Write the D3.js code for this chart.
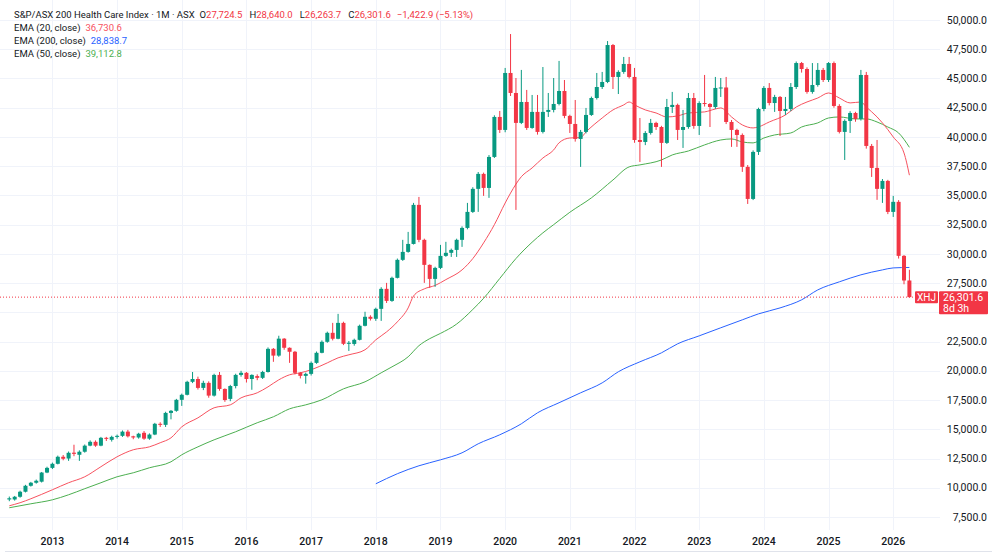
<!DOCTYPE html>
<html>
<head>
<meta charset="utf-8">
<script src="https://cdn.jsdelivr.net/npm/d3@7"></script>
<style>
  html, body { margin: 0; padding: 0; background: #fff; }
  svg { display: block; font-family: Roboto, "Liberation Sans", sans-serif; }
</style>
</head>
<body>
<div id="chart"></div>
<script>
// monthly bars, first bar is May 2012
var firstMonth = "2012-05";

var open = [
  9000, 9000, 9230, 9660, 10170, 10430, 10520, 11300,
  11700, 12050, 12650, 12500, 13000, 12820, 13080, 13600, 13930, 13600, 14270, 14100,
  14350, 14440, 14800, 14400, 14300, 14700, 14200, 14550, 15470, 15380, 16400, 16580,
  17520, 17950, 19060, 19300, 18540, 18970, 17880, 19650, 18450, 17600, 18700, 19650,
  19830, 19300, 19550, 19400, 19900, 21880, 21300, 22750, 21970, 21630, 19830, 19570,
  19740, 20680, 21540, 22480, 23250, 22740, 24100, 22310, 22300, 22650, 23850, 24620,
  24450, 25300, 27010, 25980, 27950, 29490, 30170, 30850, 34190, 31200, 29060, 27860,
  28800, 29830, 30090, 30340, 31200, 32220, 33590, 35560, 36840, 35640, 38290, 41710,
  40600, 45470, 43760, 41200, 42990, 40770, 42140, 40430, 42140, 42310, 42820, 43930,
  41800, 41110, 39830, 40430, 41880, 43330, 44270, 44700, 47860, 45130, 45560, 46240,
  45130, 39740, 39570, 40340, 41200, 40850, 39490, 42560, 42740, 40600, 40850, 43330,
  40940, 42900, 42820, 42560, 44190, 44230, 41280, 40600, 40170, 37440, 34700, 38720,
  42390, 44190, 42900, 43420, 42220, 42390, 44270, 46320, 45810, 43850, 44440, 45730,
  44870, 46320, 42650, 40430, 41370, 42050, 41540, 45300, 39230, 37350, 35560, 36240,
  33590, 34450, 29830, 27724.5
];
var high = [
  9250, 9300, 9750, 10250, 10500, 10700, 11350, 11800,
  12150, 12750, 12800, 13100, 13680, 13200, 13700, 14050, 14050, 14350, 14350, 14450,
  14550, 14900, 14950, 14450, 14700, 14850, 14650, 15550, 15600, 16500, 16650, 17600,
  18050, 19150, 19900, 19500, 19150, 19100, 19750, 19900, 18500, 18800, 19750, 20000,
  19900, 19700, 19700, 20000, 22000, 21950, 23000, 22800, 22000, 21700, 19900, 19850,
  20800, 21650, 22600, 23350, 24100, 24870, 24200, 22550, 22750, 23950, 25050, 24750,
  25400, 27150, 27520, 28050, 29600, 31200, 31880, 34360, 34870, 31300, 29100, 28900,
  30770, 31030, 30450, 31300, 32350, 34360, 35700, 37000, 36950, 38450, 41850, 42220,
  45900, 48800, 45040, 45730, 44020, 43590, 43590, 45980, 43760, 45040, 46500, 44870,
  41900, 43160, 40600, 42480, 43450, 45470, 45560, 48200, 47950, 45700, 46840, 46840,
  45900, 41620, 40500, 41540, 41300, 40950, 43250, 43850, 42850, 42310, 43760, 43760,
  43050, 45300, 42900, 45130, 45040, 45130, 41450, 40700, 40300, 37600, 38850, 42500,
  44350, 44610, 43600, 43500, 43420, 44610, 46450, 46410, 45950, 46320, 46320, 45900,
  46400, 46450, 42800, 41500, 42200, 42150, 45730, 45560, 39400, 39740, 36400, 36330,
  34960, 34600, 29900, 28640
];
var low = [
  8850, 8900, 9150, 9600, 10100, 10350, 10450, 11250,
  11600, 12000, 12350, 12300, 12700, 12300, 13000, 13550, 13500, 13550, 14000, 13950,
  14200, 14350, 14300, 14150, 14200, 14100, 14100, 14500, 15200, 15200, 15850, 16500,
  17000, 17900, 18950, 18400, 18350, 17700, 17800, 18300, 17350, 17400, 18500, 19500,
  19000, 18380, 19200, 19300, 19850, 20770, 21200, 21800, 20680, 19700, 19350, 18900,
  19600, 20600, 21500, 22400, 22600, 22700, 22200, 21700, 22150, 22600, 23800, 24300,
  24270, 24270, 25800, 25900, 27900, 29400, 30100, 30800, 31000, 27520, 27090, 27180,
  28700, 29750, 29740, 29740, 30600, 32100, 33500, 33590, 34960, 34790, 38200, 40340,
  40400, 43500, 33760, 41100, 40600, 40700, 40200, 40300, 41710, 42100, 42700, 41600,
  40340, 39600, 37440, 40300, 41800, 43200, 44100, 44600, 44100, 43670, 45400, 45000,
  39500, 37860, 39300, 40200, 40600, 37440, 39400, 42050, 39740, 39060, 40700, 40700,
  40170, 42600, 40850, 42400, 43420, 41100, 39150, 39150, 37010, 34270, 34600, 38460,
  42200, 42700, 42140, 40080, 41880, 42200, 44100, 45500, 43700, 43700, 44300, 44700,
  44700, 42500, 40300, 38030, 40340, 41300, 41400, 39000, 36580, 34620, 34360, 33400,
  33160, 29600, 27400, 26263.7
];
var close = [
  9100, 9230, 9660, 10170, 10430, 10600, 11300, 11700,
  12050, 12650, 12480, 12990, 12900, 13080, 13600, 13930, 13600, 14270, 14180, 14350,
  14440, 14800, 14400, 14300, 14620, 14200, 14550, 15470, 15380, 16400, 16580, 17520,
  17950, 19060, 19300, 18540, 18970, 17880, 19650, 18450, 17500, 18700, 19650, 19830,
  19300, 19650, 19400, 19900, 21880, 21300, 22750, 21970, 21630, 19830, 19570, 19740,
  20680, 21540, 22480, 23250, 22740, 24100, 22310, 22400, 22650, 23850, 24620, 24450,
  25300, 27010, 25980, 27950, 29490, 30170, 30850, 34190, 31200, 29060, 27860, 28800,
  29830, 30090, 30340, 31200, 32220, 33590, 35560, 36840, 35640, 38290, 41710, 40600,
  45470, 43760, 41200, 42990, 40770, 42140, 40430, 42140, 42310, 42820, 43930, 41800,
  41110, 39830, 40430, 41880, 43330, 44270, 44700, 47860, 45130, 45560, 46240, 45130,
  39740, 39570, 40340, 41200, 40850, 39490, 42560, 42740, 40600, 40850, 43330, 40940,
  42900, 42820, 42560, 44190, 44230, 41280, 40600, 40170, 37440, 34700, 38720, 42390,
  44190, 42900, 43420, 42220, 42390, 44270, 46320, 45810, 43850, 44440, 45730, 44870,
  46320, 42650, 40430, 41370, 42050, 41540, 45300, 39230, 37350, 35560, 36240, 33590,
  34450, 29830, 27724.5, 26301.6
];

// moving averages: [month, value]
var ema20 = [
  ["2012-05", 8460], ["2012-07", 8720], ["2012-09", 9060], ["2013-01", 9830], ["2013-04", 10430],
  ["2013-07", 10940], ["2013-10", 11800], ["2014-01", 12650], ["2014-04", 13250], ["2014-07", 13500],
  ["2014-09", 13850], ["2014-11", 14270], ["2015-01", 15210], ["2015-04", 15980], ["2015-07", 16840],
  ["2015-10", 17090], ["2015-12", 17690], ["2016-03", 18120], ["2016-05", 18630], ["2016-07", 19230],
  ["2016-09", 19660], ["2016-11", 19830], ["2017-01", 20090], ["2017-04", 20680], ["2017-06", 21110],
  ["2017-08", 21370], ["2017-11", 21800], ["2018-01", 22650], ["2018-03", 23330], ["2018-05", 24190],
  ["2018-07", 25380], ["2018-08", 26400], ["2018-10", 27010], ["2018-12", 27300], ["2019-02", 27800],
  ["2019-05", 28630], ["2019-07", 29600], ["2019-09", 30940], ["2019-11", 32500], ["2020-01", 34350],
  ["2020-02", 35200], ["2020-04", 36600], ["2020-06", 37350], ["2020-08", 38200], ["2020-10", 38890],
  ["2020-11", 39500], ["2021-01", 39910], ["2021-03", 39950], ["2021-04", 40430], ["2021-07", 41620],
  ["2021-09", 42310], ["2021-11", 42740], ["2021-12", 42990], ["2022-01", 42740], ["2022-03", 42310],
  ["2022-05", 42050], ["2022-07", 41710], ["2022-09", 41800], ["2022-11", 42050], ["2023-02", 42140],
  ["2023-04", 42390], ["2023-05", 42480], ["2023-07", 41710], ["2023-09", 41030], ["2023-11", 40770],
  ["2023-12", 40860], ["2024-02", 41280], ["2024-05", 41880], ["2024-07", 42560], ["2024-09", 42990],
  ["2024-11", 43330], ["2025-01", 43760], ["2025-03", 43330], ["2025-05", 42910], ["2025-07", 42990],
  ["2025-08", 42560], ["2025-10", 41710], ["2025-11", 41200], ["2026-01", 40000], ["2026-03", 38630],
  ["2026-04", 36730.6]
];
var ema50 = [
  ["2012-05", 8290], ["2012-09", 8630], ["2013-01", 8970], ["2013-04", 9400], ["2013-07", 9920],
  ["2013-10", 10430], ["2014-01", 10940], ["2014-04", 11280], ["2014-07", 11710], ["2014-11", 12220],
  ["2015-01", 12820], ["2015-04", 13500], ["2015-07", 14100], ["2015-11", 14790], ["2016-03", 15560],
  ["2016-06", 16070], ["2016-09", 16750], ["2016-12", 17090], ["2017-03", 17520], ["2017-07", 18460],
  ["2017-11", 19060], ["2018-02", 19830], ["2018-04", 20340], ["2018-07", 21200], ["2018-09", 22150],
  ["2018-11", 22750], ["2019-01", 23200], ["2019-04", 24000], ["2019-07", 25250], ["2019-09", 26200],
  ["2019-12", 27900], ["2020-03", 29600], ["2020-06", 31000], ["2020-08", 31800], ["2020-10", 32500],
  ["2021-01", 33560], ["2021-05", 34790], ["2021-09", 36320], ["2021-12", 37440], ["2022-02", 37610],
  ["2022-06", 38030], ["2022-08", 38460], ["2022-11", 38800], ["2023-02", 39320], ["2023-05", 39740],
  ["2023-07", 39830], ["2023-09", 39570], ["2023-11", 39490], ["2024-01", 39910], ["2024-03", 40170],
  ["2024-06", 40340], ["2024-08", 40850], ["2024-11", 41200], ["2025-01", 41620], ["2025-03", 41710],
  ["2025-06", 41540], ["2025-08", 41540], ["2025-10", 41280], ["2025-12", 40850], ["2026-02", 40340],
  ["2026-04", 39112.8]
];
var ema200 = [
  ["2018-01", 10340], ["2018-05", 11200], ["2018-09", 11880], ["2019-01", 12390], ["2019-05", 12990],
  ["2019-08", 13760], ["2019-12", 14530], ["2020-04", 15470], ["2020-07", 16410], ["2020-11", 17270],
  ["2021-03", 18120], ["2021-07", 18970], ["2021-10", 19920], ["2022-02", 20770], ["2022-06", 21540],
  ["2022-09", 22310], ["2023-01", 22990], ["2023-05", 23680], ["2023-09", 24360], ["2023-12", 24870],
  ["2024-04", 25380], ["2024-08", 26070], ["2024-11", 26920], ["2025-03", 27610], ["2025-07", 28210],
  ["2025-11", 28630], ["2026-01", 28800], ["2026-04", 28838.7]
];

var yearTicks = [2013, 2014, 2015, 2016, 2017, 2018, 2019, 2020, 2021, 2022, 2023, 2024, 2025, 2026];
var priceTicks = [7500, 10000, 12500, 15000, 17500, 20000, 22500, 25000, 27500, 30000,
                  32500, 35000, 37500, 40000, 42500, 45000, 47500, 50000];

var width = 1000, height = 559;
var upColor = "#089981", downColor = "#f23645";
var gridColor = "#f0f3fa", textColor = "#131722";

// month string -> bar index
function monthIndex(s) {
  var a = s.split("-"), b = firstMonth.split("-");
  return (+a[0] - +b[0]) * 12 + (+a[1] - +b[1]);
}

var x = d3.scaleLinear().domain([0, close.length - 1]).range([9.3, 909.4]);
var y = d3.scaleLinear().domain([7500, 50000]).range([517, 20]);
var fmt = d3.format(",.1f");

var svg = d3.select("#chart").append("svg")
  .attr("width", width)
  .attr("height", height);

// grid
svg.append("g").selectAll("line")
  .data(priceTicks)
  .join("line")
    .attr("x1", 0).attr("x2", 940)
    .attr("y1", function(d) { return Math.round(y(d)) + 0.5; })
    .attr("y2", function(d) { return Math.round(y(d)) + 0.5; })
    .attr("stroke", gridColor);

svg.append("g").selectAll("line")
  .data(yearTicks)
  .join("line")
    .attr("x1", function(d) { return Math.round(x(monthIndex(d + "-01"))) + 0.5; })
    .attr("x2", function(d) { return Math.round(x(monthIndex(d + "-01"))) + 0.5; })
    .attr("y1", 0).attr("y2", 530)
    .attr("stroke", gridColor);

// frame line under the time axis
svg.append("line")
  .attr("x1", 5).attr("x2", 992).attr("y1", 551.5).attr("y2", 551.5)
  .attr("stroke", "#e0e3eb");

// moving averages
var emaLine = d3.line()
  .x(function(d) { return x(monthIndex(d[0])); })
  .y(function(d) { return y(d[1]); })
  .curve(d3.curveMonotoneX);

var emas = [
  {data: ema200, color: "#2962ff"},
  {data: ema50, color: "#4caf50"},
  {data: ema20, color: "#f7525f"}
];
svg.append("g").selectAll("path")
  .data(emas)
  .join("path")
    .attr("d", function(d) { return emaLine(d.data); })
    .attr("fill", "none")
    .attr("stroke", function(d) { return d.color; })
    .attr("stroke-width", 1);

// last price line
var last = close.length - 1;
var lastY = y(close[last]);
svg.append("line")
  .attr("x1", 0).attr("x2", 915)
  .attr("y1", lastY).attr("y2", lastY)
  .attr("stroke", downColor)
  .attr("stroke-width", 1)
  .attr("stroke-dasharray", "1,2");

// candles
var bars = d3.range(close.length).map(function(i) {
  return {i: i, o: open[i], h: high[i], l: low[i], c: close[i]};
});
var barColor = function(d) { return d.c >= d.o ? upColor : downColor; };

var candles = svg.append("g");
candles.selectAll(".wick")
  .data(bars)
  .join("line")
    .attr("class", "wick")
    .attr("x1", function(d) { return x(d.i); })
    .attr("x2", function(d) { return x(d.i); })
    .attr("y1", function(d) { return y(d.h); })
    .attr("y2", function(d) { return y(d.l); })
    .attr("stroke", barColor)
    .attr("stroke-width", 1);

candles.selectAll(".body")
  .data(bars)
  .join("rect")
    .attr("class", "body")
    .attr("x", function(d) { return x(d.i) - 2; })
    .attr("width", 4)
    .attr("y", function(d) { return y(Math.max(d.o, d.c)); })
    .attr("height", function(d) { return Math.max(1, Math.abs(y(d.o) - y(d.c))); })
    .attr("fill", barColor);

// price axis (labels hidden under the last price tag are skipped)
svg.append("g").selectAll("text")
  .data(priceTicks.filter(function(d) { return y(d) < lastY - 12 || y(d) > lastY + 24; }))
  .join("text")
    .attr("x", 987)
    .attr("y", function(d) { return y(d); })
    .attr("dy", "0.35em")
    .attr("text-anchor", "end")
    .attr("font-size", "10.5px")
    .attr("fill", textColor)
    .text(function(d) { return fmt(d); });

// time axis
svg.append("g").selectAll("text")
  .data(yearTicks)
  .join("text")
    .attr("x", function(d) { return x(monthIndex(d + "-01")); })
    .attr("y", 541)
    .attr("dy", "0.35em")
    .attr("text-anchor", "middle")
    .attr("font-size", "10.5px")
    .attr("font-weight", 500)
    .attr("fill", textColor)
    .text(function(d) { return d; });

// last price tag
var tag = svg.append("g");
tag.append("rect")
  .attr("x", 915).attr("y", lastY - 6).attr("width", 23).attr("height", 12)
  .attr("rx", 1).attr("fill", downColor);
tag.append("text")
  .attr("x", 926.5).attr("y", lastY).attr("dy", "0.35em")
  .attr("text-anchor", "middle").attr("font-size", "10px").attr("fill", "#fff")
  .text("XHJ");
tag.append("rect")
  .attr("x", 939).attr("y", lastY - 6).attr("width", 49).attr("height", 23)
  .attr("rx", 1).attr("fill", downColor);
tag.append("text")
  .attr("x", 943).attr("y", lastY).attr("dy", "0.35em")
  .attr("font-size", "10.5px").attr("fill", "#fff")
  .text(fmt(close[last]));
tag.append("text")
  .attr("x", 943).attr("y", lastY + 11).attr("dy", "0.35em")
  .attr("font-size", "10.5px").attr("fill", "#fff")
  .text("8d 3h");

// legend
var legend = svg.append("g").attr("font-size", "9.5px");
var head = legend.append("text").attr("x", 14).attr("y", 18.3).attr("fill", textColor);
head.append("tspan").text("S&P/ASX 200 Health Care Index · 1M · ASX");
var chg = close[last] - close[last - 1];
var minus = function(s) { return s.replace("-", "\u2212"); };
var ohlc = [["O", open[last]], ["H", high[last]], ["L", low[last]], ["C", close[last]]];
ohlc.forEach(function(p, k) {
  head.append("tspan").attr("dx", k === 0 ? 5 : 7).text(p[0]);
  head.append("tspan").attr("fill", downColor).text(fmt(p[1]));
});
head.append("tspan").attr("dx", 6).attr("fill", downColor)
  .text(minus(fmt(chg)) + " (" + minus(d3.format(".2f")(chg / close[last - 1] * 100)) + "%)");

var emaLegend = [
  ["EMA (20, close)", ema20, "#f7525f"],
  ["EMA (200, close)", ema200, "#2962ff"],
  ["EMA (50, close)", ema50, "#4caf50"]
];
emaLegend.forEach(function(e, k) {
  var t = legend.append("text").attr("x", 14).attr("y", 31.3 + k * 13).attr("fill", textColor);
  t.append("tspan").text(e[0]);
  t.append("tspan").attr("dx", 5).attr("fill", e[2]).text(fmt(e[1][e[1].length - 1][1]));
});
</script>
</body>
</html>
